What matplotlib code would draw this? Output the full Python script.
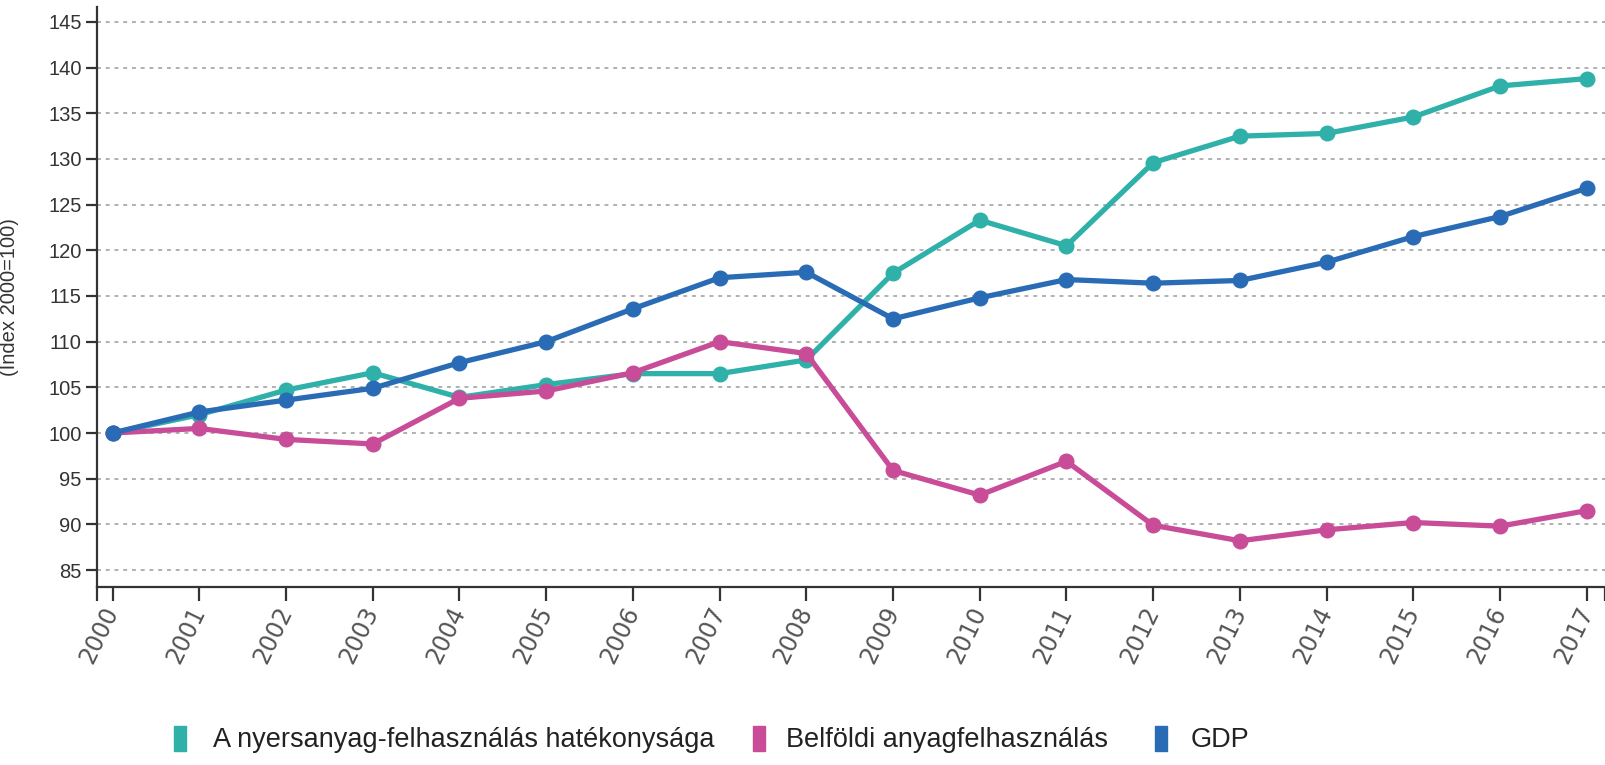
import numpy as np
import matplotlib.pyplot as plt
from matplotlib.patches import Rectangle

years = list(range(2000, 2018))
hatekonysag = [100, 102.0, 104.7, 106.6, 103.9, 105.3, 106.5, 106.5, 108.0, 117.5,
               123.3, 120.5, 129.6, 132.5, 132.8, 134.6, 138.0, 138.8]
belfoldi = [100, 100.5, 99.3, 98.8, 103.8, 104.6, 106.6, 110.0, 108.7, 95.9,
            93.2, 96.9, 89.9, 88.2, 89.4, 90.2, 89.8, 91.5]
gdp = [100, 102.3, 103.6, 104.9, 107.7, 110.0, 113.6, 117.0, 117.6, 112.5,
       114.8, 116.8, 116.4, 116.7, 118.7, 121.5, 123.7, 126.8]
labels = ['A nyersanyag-felhasználás hatékonysága', 'Belföldi anyagfelhasználás', 'GDP']
colors = ['#2FB0A9', '#C84C98', '#2A6BB6']
yticks = list(range(85, 150, 5))

sans = ['Liberation Sans', 'DejaVu Sans']

fig = plt.figure(figsize=(16.06, 7.65), dpi=100)
ax = fig.add_axes([97 / 1606, 1 - 587 / 765, (1605 - 97) / 1606, (587 - 7) / 765])

for vals, c in zip([hatekonysag, belfoldi, gdp], colors):
    ax.plot(years, vals, '-o', color=c, lw=3.8, markersize=10.5, solid_capstyle='round')

ax.set_xlim(1999.82, 2017.21)
ax.set_ylim(83.14, 146.64)
ax.set_yticks(yticks)
ax.set_xticks(years)
ax.set_xticks([1999.82, 2017.21], minor=True)
ax.grid(axis='y', color='#b0b0b0', linestyle=(0, (2, 2.5)), lw=1.4)
ax.set_axisbelow(True)

for s in ['top', 'right']:
    ax.spines[s].set_visible(False)
for s in ['left', 'bottom']:
    ax.spines[s].set_color('#333333')
    ax.spines[s].set_linewidth(1.6)

ax.tick_params(axis='y', length=8, width=1.6, color='#333333', pad=3)
ax.tick_params(axis='x', which='both', length=10, width=1.6, color='#333333', pad=5)
for t in ax.get_yticklabels():
    t.set_family(sans)
    t.set_fontsize(14.5)
    t.set_color('#333333')
for t in ax.get_xticklabels():
    t.set_fontsize(17)
    t.set_color('#555555')
    t.set_rotation(64)
    t.set_ha('right')
    t.set_va('center')
    t.set_rotation_mode('anchor')

ax.set_ylabel('(Index 2000=100)', family=sans, fontsize=14.5, color='#333333')
ax.yaxis.set_label_coords(-0.052, 0.5)

# legend along the bottom
sq_x = [174, 753, 1155]
txt_x = [213, 786, 1191]
for lab, c, sx, tx in zip(labels, colors, sq_x, txt_x):
    fig.add_artist(Rectangle((sx / 1606, 1 - 751 / 765), 12 / 1606, 25 / 765,
                             transform=fig.transFigure, color=c))
    fig.text(tx / 1606, 1 - 740 / 765, lab, family=sans, fontsize=19.5,
             color='#222222', va='center', ha='left')

fig.savefig('out.png', dpi=100)
